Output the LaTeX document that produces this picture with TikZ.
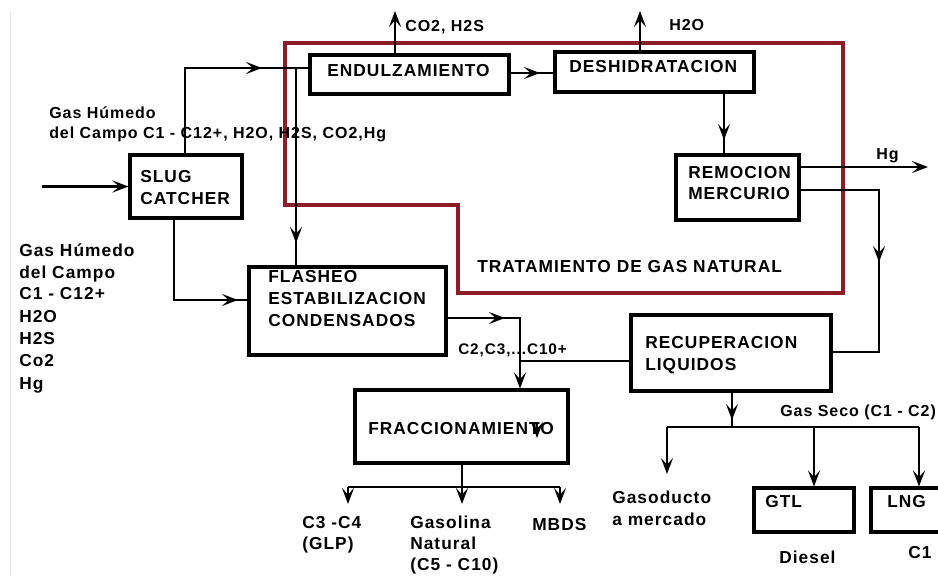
\documentclass[tikz,border=0pt]{standalone}
\usepackage{fontspec}
\setmainfont{Liberation Sans}[LetterSpace=6]
\usetikzlibrary{arrows.meta,fit}
\definecolor{frame}{RGB}{140,28,38}
\tikzset{
  ln/.style={line width=2.1pt, black},
  arr/.style={ln, -{Stealth[length=12pt,width=9pt,inset=5pt]}},
  tipat/.style={arr, shorten <=0pt},
  box/.style={draw, line width=2.3pt, inner sep=0pt},
  t13/.style={inner sep=0pt, anchor=west, font=\bfseries\fontsize{13}{15}\selectfont, text height=9.3pt, text depth=0pt},
  t12/.style={inner sep=0pt, anchor=west, font=\bfseries\fontsize{12}{14}\selectfont, text height=8.6pt, text depth=0pt},
  t11/.style={inner sep=0pt, anchor=west, font=\bfseries\fontsize{11.5}{13}\selectfont, text height=8.2pt, text depth=0pt},
}
\begin{document}
\begin{tikzpicture}[x=0.75pt,y=-0.75pt]
\useasboundingbox (0,0) rectangle (938,576);
\fill[white] (0,0) rectangle (938,576);
\draw[black!10, line width=0.8pt] (10.5,12) -- (10.5,576);

% red frame
\draw[frame, line width=3pt] (285,43) -- (843,43) -- (843,293) -- (458,293) -- (458,205) -- (285,205) -- cycle;

% boxes
\node[box, fit={(130,155) (242,218)}] (slug) {};
\node[box, fit={(310,55) (509,94)}] (endul) {};
\node[box, fit={(555,52) (754,92)}] (desh) {};
\node[box, fit={(676,155) (799,220)}] (remo) {};
\node[box, fit={(249,267) (446,355)}] (flash) {};
\node[box, fit={(631,315) (831,391)}] (recup) {};
\node[box, fit={(355,390) (568,463)}] (fracc) {};
\node[box, fit={(754,488) (854,532)}] (gtl) {};
\node[box, fit={(871,488) (948,532)}] (lng) {};

% box texts
\node[t13] (tslug1) at (140,176) {SLUG};
\node[t13] (tslug2) at (140,198) {CATCHER};
\node[t13] (tendul) at (327,70.5) {ENDULZAMIENTO};
\node[t13] (tdesh) at (569,66) {DESHIDRATACION};
\node[t13] (tremo1) at (688,172) {REMOCION};
\node[t13] (tremo2) at (688,193) {MERCURIO};
\node[t13] (tflash1) at (268,276) {FLASHEO};
\node[t13] (tflash2) at (268,298) {ESTABILIZACION};
\node[t13] (tflash3) at (268,320) {CONDENSADOS};
\node[t13] (trecup1) at (645,342) {RECUPERACION};
\node[t13] (trecup2) at (645,364) {LIQUIDOS};
\node[t13] (tfracc) at (368,428) {FRACCIONAMIENTO};
\node[t13] (tgtl) at (765,501) {GTL};
\node[t13] (tlng) at (887,501) {LNG};
\node[t13] (ttrat) at (477,266) {TRATAMIENTO DE GAS NATURAL};

% labels
\node[t12] (lco2) at (405,26) {CO2, H2S};
\node[t12] (lh2o) at (669,25) {H2O};
\node[t12] (lhg) at (876,154) {Hg};
\node[t12] (lgas1) at (49,113) {Gas Húmedo};
\node[t12] (lgas2) at (49,133) {del Campo C1 - C12+, H2O, H2S, CO2,Hg};
\node[t11] (lc2) at (458,349) {C2,C3,...C10+};
\node[t12] (lseco) at (780,411) {Gas Seco (C1 - C2)};

\node[t13] (lb1) at (19,250) {Gas Húmedo};
\node[t13] (lb2) at (19,272) {del Campo};
\node[t13] (lb3) at (19,293) {C1 - C12+};
\node[t13] (lb4) at (19,316) {H2O};
\node[t13] (lb5) at (19,338) {H2S};
\node[t13] (lb6) at (19,360) {Co2};
\node[t13] (lb7) at (19,383) {Hg};

\node[t13] (lglp1) at (302,522) {C3 -C4};
\node[t13] (lglp2) at (302,543) {(GLP)};
\node[t13] (lgn1) at (410,522) {Gasolina};
\node[t13] (lgn2) at (410,543) {Natural};
\node[t13] (lgn3) at (410,564) {(C5 - C10)};
\node[t13] (lmbds) at (532,524) {MBDS};
\node[t13] (lgd1) at (612,497) {Gasoducto};
\node[t13] (lgd2) at (612,519) {a mercado};
\node[t13] (ldiesel) at (779,557) {Diesel};
\node[t13] (lc1) at (908,552) {C1};

% coordinates
\coordinate (in) at (42,186.5);
\coordinate (a1) at (262,68);
\coordinate (j1) at (296,68);
\coordinate (a2) at (296,243);
\coordinate (a3) at (238,300);
\coordinate (a5) at (540,73);
\coordinate (up1) at (395,11);
\coordinate (up2) at (640,11);
\coordinate (a8) at (724,140);
\coordinate (hg) at (928,167);
\coordinate (a10) at (879,262);
\coordinate (a11) at (505,318);
\coordinate (j12) at (520,361);
\coordinate (j13) at (462,487);
\coordinate (b1) at (348,487);
\coordinate (b3) at (560,487);
\coordinate (a14) at (732,420);
\coordinate (j14) at (732,427);
\coordinate (c1) at (667,427);
\coordinate (c2) at (814,427);
\coordinate (c3) at (919,427);

% connectors
\draw[arr] (in) -- (slug.west);
\draw[ln] (slug.north -| 185,0) |- (endul.west |- a1);
\draw[tipat] ([xshift=-1pt]a1) -- (a1);
\draw[ln] (j1) -- (flash.north -| j1);
\draw[tipat] ([yshift=1pt]a2) -- (a2);
\draw[ln] (slug.south -| 174,0) |- (flash.west |- a3);
\draw[tipat] ([xshift=-1pt]a3) -- (a3);
\draw[ln] (endul.east |- a5) -- (desh.west |- a5);
\draw[tipat] ([xshift=-1pt]a5) -- (a5);
\draw[arr] (endul.north -| up1) -- (up1);
\draw[arr] (desh.north -| up2) -- (up2);
\draw[ln] (desh.south -| a8) -- (remo.north -| a8);
\draw[tipat] ([yshift=1pt]a8) -- (a8);
\draw[arr] (remo.east |- hg) -- (hg);
\draw[ln] (remo.east |- 0,190) -| (879,352) -- (recup.east |- 0,352);
\draw[tipat] ([yshift=1pt]a10) -- (a10);
\draw[arr] (flash.east |- a11) -| (fracc.north -| j12);
\draw[tipat] ([xshift=-1pt]a11) -- (a11);
\draw[ln] (recup.west |- j12) -- (j12);
\draw[ln] (fracc.south -| j13) -- (j13);
\draw[ln] (b1) -- (b3);
\draw[arr] (b1) -- ++(0,17);
\draw[arr] (j13) -- ++(0,17);
\draw[arr] (b3) -- ++(0,17);
\draw[ln] (recup.south -| a14) -- (j14);
\draw[tipat] ([yshift=1pt]a14) -- (a14);
\draw[ln] (c1) -- (c3);
\draw[arr] (c1) -- ++(0,47);
\draw[arr] (c2) -- (gtl.north -| c2);
\draw[arr] (c3) -- (lng.north -| c3);
% stray arrowhead over FRACCIONAMIENTO
\coordinate (s1) at (537,423);
\coordinate (s2) at (537,438);
\draw[arr, line width=1.5pt] (s1) -- (s2);
\end{tikzpicture}
\end{document}
